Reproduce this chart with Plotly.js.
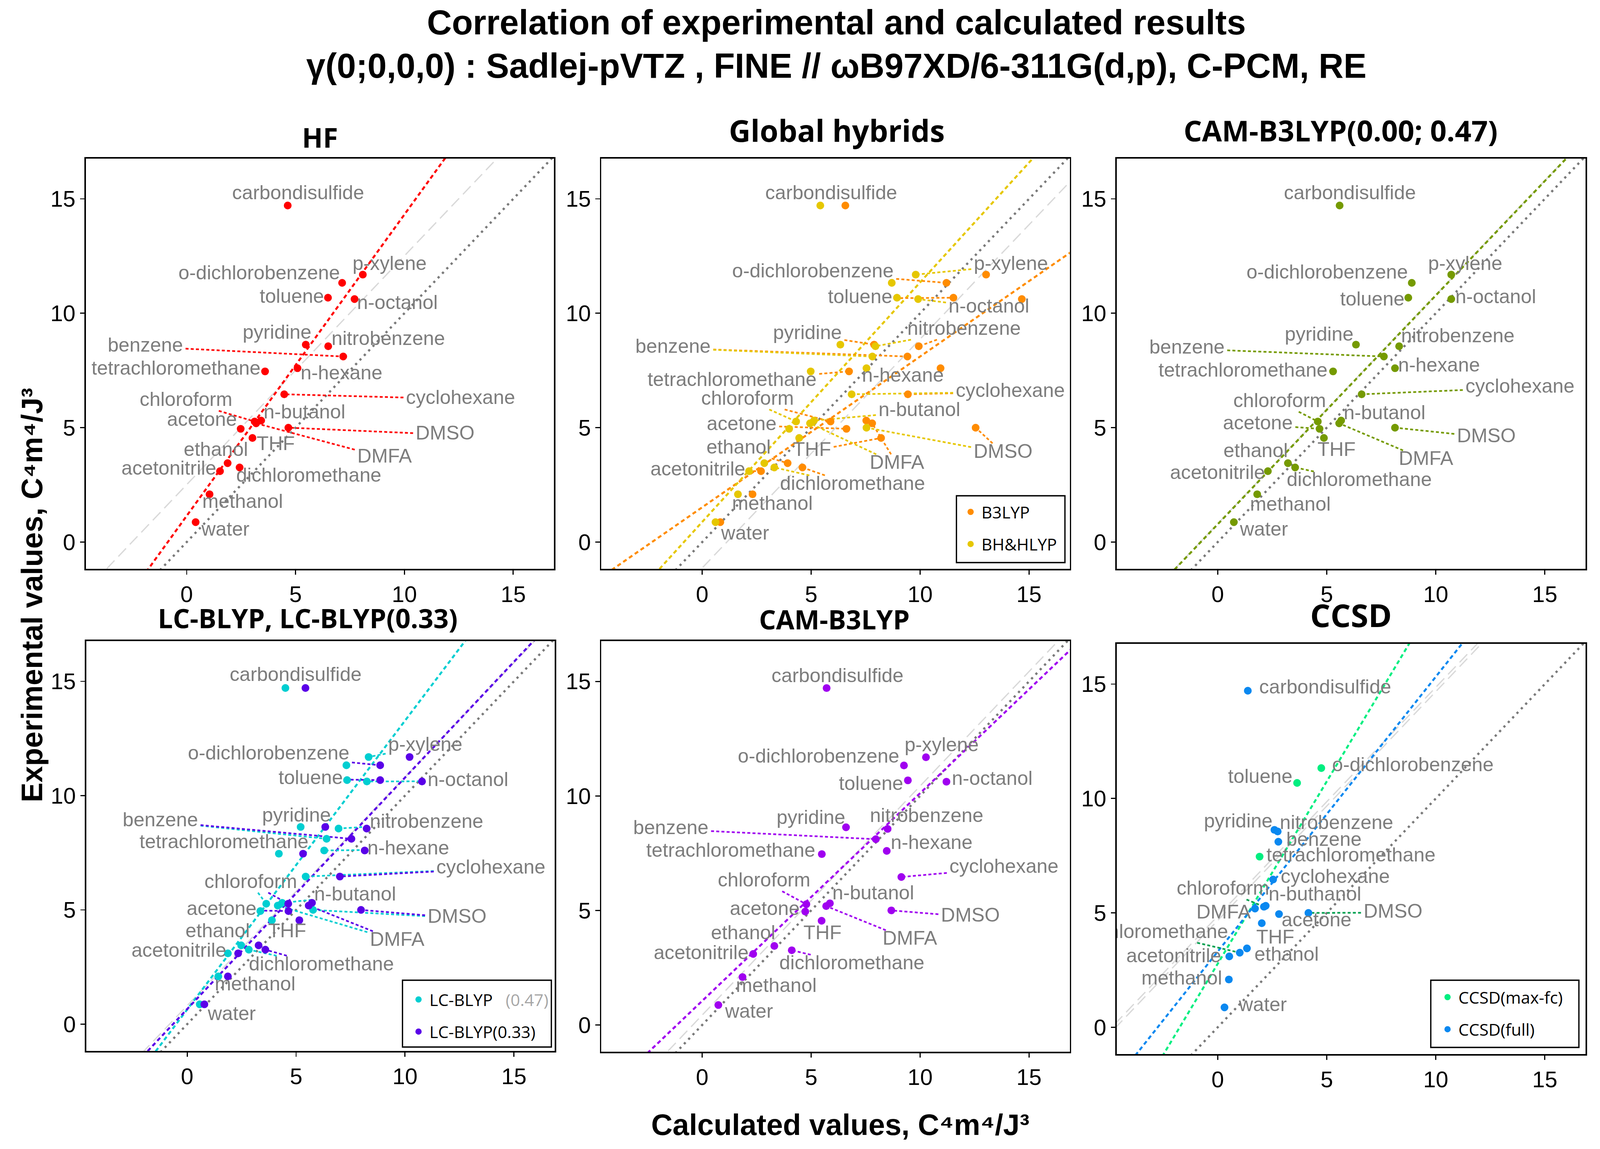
<!DOCTYPE html>
<html><head><meta charset="utf-8">
<script src="https://cdn.plot.ly/plotly-3.0.1.min.js"></script>
<style>html,body{margin:0;padding:0;background:#fff;overflow:hidden}</style>
</head><body><div id="chart"></div>
<script>
// ---------------- data ----------------
const solvents = ["carbondisulfide","p-xylene","o-dichlorobenzene","toluene","n-octanol","pyridine","nitrobenzene","benzene","tetrachloromethane","n-hexane","cyclohexane","chloroform","n-butanol","DMFA","acetone","DMSO","THF","ethanol","acetonitrile","dichloromethane","methanol","water"];
const experimental = [14.71,11.69,11.33,10.68,10.62,8.63,8.56,8.11,7.46,7.60,6.46,5.27,5.31,5.19,4.95,5.00,4.55,3.45,3.10,3.26,2.09,0.87];

const calc_HF        = [4.64,8.09,7.14,6.49,7.71,5.47,6.50,7.19,3.60,5.09,4.48,3.12,3.42,3.19,2.48,4.67,3.02,1.88,1.53,2.43,1.05,0.41];
const calc_B3LYP     = [6.57,13.03,11.21,11.53,14.67,7.89,9.94,9.42,6.74,10.94,9.44,5.89,7.53,7.80,6.62,12.55,8.21,3.92,2.70,4.60,2.31,0.83];
const calc_BHHLYP    = [5.42,9.80,8.70,8.94,9.91,6.34,7.95,7.81,4.98,7.54,6.86,4.31,5.13,4.95,3.99,7.54,4.45,2.85,2.15,3.31,1.64,0.61];
const calc_CAM_0_047 = [5.59,10.71,8.90,8.74,10.71,6.34,8.32,7.62,5.29,8.13,6.60,4.59,5.66,5.57,4.67,8.13,4.87,3.22,2.30,3.55,1.81,0.74];
const calc_LCBLYP047 = [4.51,8.33,7.31,7.34,8.25,5.21,6.95,6.40,4.21,6.29,5.44,3.63,4.36,4.16,3.36,5.78,3.89,2.48,1.87,2.83,1.43,0.58];
const calc_LCBLYP033 = [5.43,10.21,8.86,8.86,10.78,6.34,8.24,7.54,5.32,8.15,7.01,4.64,5.73,5.58,4.65,7.98,5.15,3.28,2.34,3.59,1.87,0.79];
const calc_CAMB3LYP  = [5.71,10.27,9.26,9.44,11.21,6.60,8.51,7.97,5.49,8.47,9.14,4.78,5.86,5.69,4.73,8.68,5.48,3.31,2.34,4.11,1.85,0.74];
const calc_CCSDfull  = [1.38,null,null,null,null,2.60,2.75,2.78,null,null,2.54,2.12,2.20,1.71,2.81,4.16,2.02,1.34,0.53,1.01,0.51,0.31];
const calc_CCSDmaxfc = [null,null,4.75,3.64,null,null,null,null,1.92,null,null,null,null,null,null,null,null,null,null,null,null,null];

// fitted lines: [slope, intercept]
const fit_HF        = [1.317, 1.145];
const fit_B3LYP     = [0.659, 1.52];
const fit_BHHLYP    = [1.047, 0.88];
const fit_CAM_0_047 = [1.000, 0.78];
const fit_LCBLYP047 = [1.264, 0.64];
const fit_LCBLYP033 = [1.013, 0.66];
const fit_CAMB3LYP  = [0.907, 1.05];
const fit_CCSDmaxfc = [1.593, 2.78];
const fit_CCSDfull  = [1.201, 3.31];
// slope-1 reference offsets (light grey dashed)
const offset_HF = [2.51];
const offset_GH = [-1.13];
const offset_CAM047 = [0.80];
const offset_LC = [0.81];
const offset_CAM = [0.43];
const offset_CCSD = [4.86, 4.67];

const ccsdLabelText = solvents.map(s => s === "n-butanol" ? "n-buthanol" : s);

// ---------------- label placement (layout, data coords) ----------------
const LAB = {
  HF:  {x:[5.12,9.32,3.33,4.83,9.68,4.15,9.26,-1.90,-0.49,7.11,12.58,-0.03,5.41,9.09,0.70,11.87,4.09,1.34,-0.82,5.61,2.57,1.78],
        y:[15.19,12.10,11.70,10.68,10.40,9.11,8.83,8.54,7.53,7.32,6.25,6.16,5.62,3.69,5.30,4.70,4.23,3.98,3.16,2.85,1.71,0.49]},
  GH:  {x:[5.92,14.17,5.08,7.25,13.16,4.83,12.02,-1.34,1.37,9.21,14.14,2.08,9.97,8.94,1.81,13.81,5.04,1.67,-0.20,6.90,3.22,1.97],
        y:[15.19,12.10,11.79,10.65,10.24,9.08,9.27,8.48,7.03,7.22,6.56,6.22,5.72,3.41,5.11,3.89,3.98,4.08,3.12,2.49,1.62,0.33]},
  C47: {x:[6.06,11.35,5.02,7.09,12.75,4.65,11.01,-1.41,1.16,10.15,13.86,2.84,7.65,9.55,1.84,12.32,5.45,1.74,-0.01,6.49,3.33,2.12],
        y:[15.19,12.10,11.73,10.55,10.65,9.02,8.95,8.45,7.44,7.67,6.75,6.12,5.59,3.58,5.14,4.58,3.98,3.92,2.97,2.66,1.59,0.49]},
  LC:  {x:[4.98,10.93,3.74,5.67,12.89,5.02,10.99,-1.23,1.69,10.15,13.94,2.92,7.71,9.64,1.58,12.39,4.59,1.40,-0.38,6.16,3.12,2.05],
        y:[15.23,12.17,11.80,10.72,10.63,9.08,8.80,8.87,7.92,7.64,6.81,6.18,5.63,3.64,5.00,4.65,4.02,4.02,3.16,2.57,1.69,0.39]},
  CAM: {x:[6.21,10.99,5.34,7.75,13.31,4.99,10.30,-1.44,1.31,10.53,13.85,2.84,7.85,9.53,2.87,12.31,5.52,1.88,-0.05,6.87,3.40,2.15],
        y:[15.19,12.16,11.66,10.47,10.69,8.99,9.08,8.55,7.55,7.89,6.86,6.26,5.70,3.71,5.01,4.72,3.96,3.96,3.08,2.64,1.66,0.53]},
  CC:  {x:[4.93,null,8.95,1.95,null,0.94,5.45,4.87,6.11,null,5.39,0.24,4.46,0.27,4.53,8.04,2.64,3.16,-2.02,-2.85,-1.65,2.07],
        y:[14.80,null,11.40,10.89,null,8.94,8.88,8.15,7.46,null,6.52,6.01,5.76,4.97,4.62,5.01,3.88,3.12,3.06,4.12,2.08,0.92]}
};

// reference frame 4321 x 2941; actual drawing fits the real viewport
const RW = 4321, RH = 2941;
const W = window.innerWidth || RW, H = window.innerHeight || RH;
const S = Math.min(W / RW, H / RH);
const chartDiv = document.getElementById("chart");
chartDiv.style.width = W + "px"; chartDiv.style.height = H + "px";
const dsh = (a, b) => (a * S).toFixed(2) + "px," + (b * S).toFixed(2) + "px";

const XR = [-4.63, 16.87], YR = [-1.17, 16.76];
const LABEL_FONT = 53 * S, LABEL_FAMILY = "Liberation Sans";

const PANELS = [
  {title:"HF", tsize:74, tx:864, ty:351, box:[232,1496,406,1456], lab:LAB.HF, text:solvents, offsets:offset_HF,
   series:[{name:"HF", x:calc_HF, color:"#ff0000", fit:fit_HF}]},
  {title:"Global hybrids", tsize:81, tx:2260, ty:333, box:[1624,2889,406,1456], lab:LAB.GH, text:solvents, offsets:offset_GH,
   legend:"legend", legendPos:[2592,1276], legendBox:[2583,2876,1269,1440],
   series:[{name:"B3LYP", x:calc_B3LYP, color:"#ff8c00", fit:fit_B3LYP},
           {name:"BH&amp;HLYP", x:calc_BHHLYP, color:"#e6c700", fit:fit_BHHLYP}]},
  {title:"CAM-B3LYP(0.00; 0.47)", tsize:78, tx:3620, ty:334, box:[3016,4282,406,1456], lab:LAB.C47, text:solvents, offsets:offset_CAM047,
   series:[{name:"CAM047", x:calc_CAM_0_047, color:"#759a00", fit:fit_CAM_0_047}]},
  {title:"LC-BLYP, LC-BLYP(0.33)", tsize:72, tx:831, ty:1581, box:[233,1498,1641,2690], lab:LAB.LC, text:solvents, offsets:offset_LC,
   legend:"legend2", legendPos:[1101,2524], legendBox:[1087,1489,2509,2680],
   series:[{name:"LC-BLYP\u00a0\u00a0 <span style='color:#a6a6a6'>(0.47)</span>", x:calc_LCBLYP047, color:"#00ced1", fit:fit_LCBLYP047},
           {name:"LC-BLYP(0.33)", x:calc_LCBLYP033, color:"#5a00e8", fit:fit_LCBLYP033}]},
  {title:"CAM-B3LYP", tsize:72, tx:2253, ty:1584, box:[1624,2889,1641,2692], lab:LAB.CAM, text:solvents, offsets:offset_CAM,
   series:[{name:"CAM-B3LYP", x:calc_CAMB3LYP, color:"#a000f0", fit:fit_CAMB3LYP}]},
  {title:"CCSD", tsize:86, tx:3648, ty:1574, box:[3016,4282,1648,2698], lab:LAB.CC, text:ccsdLabelText, offsets:offset_CCSD,
   legend:"legend3", legendPos:[3880,2518], legendBox:[3864,4264,2509,2681], leaderColor:"#00a050",
   series:[{name:"CCSD(max-fc)", x:calc_CCSDmaxfc, color:"#00ee80", fit:fit_CCSDmaxfc},
           {name:"CCSD(full)", x:calc_CCSDfull, color:"#0a88f0", fit:fit_CCSDfull}]}
];

// text measuring for leader segments
const cv = document.createElement("canvas").getContext("2d");
cv.font = LABEL_FONT + "px '" + LABEL_FAMILY + "'";
function textW(s){ return cv.measureText(s).width; }

const traces = [];
const layout = {
  width: W, height: H, autosize: false,
  margin: {l:0, r:0, t:0, b:0, pad:0},
  paper_bgcolor: "#fff", plot_bgcolor: "#fff",
  font: {family: "Liberation Sans", color: "#000"},
  showlegend: true,
  annotations: [], shapes: []
};
const legendBase = {xanchor:"left", yanchor:"top", bgcolor:"rgba(0,0,0,0)", borderwidth:0,
  font:{family:"Open Sans", size:45 * S, color:"#000"}, tracegroupgap:25 * S, itemsizing:"trace",
  traceorder:"grouped", itemwidth:Math.max(30, 48 * S)};

const LX = [-10, 25];
PANELS.forEach((p, i) => {
  const n = i + 1;
  const xa = n === 1 ? "x" : "x" + n, ya = n === 1 ? "y" : "y" + n;
  const xkey = n === 1 ? "xaxis" : "xaxis" + n, ykey = n === 1 ? "yaxis" : "yaxis" + n;
  const [x0, x1, y0, y1] = p.box;
  const common = {showgrid:false, zeroline:false, showline:true, mirror:true, linecolor:"#000", linewidth:4 * S,
    ticks:"outside", ticklen:12 * S, tickwidth:3 * S, tickcolor:"#000", tickvals:[0,5,10,15], automargin:false, fixedrange:true,
    tickfont:{family:"Liberation Sans", size:61 * S, color:"#000"}};
  layout[xkey] = Object.assign({}, common, {domain:[x0 / RW, x1 / RW], anchor:ya, range:XR});
  layout[ykey] = Object.assign({}, common, {domain:[1 - y1 / RH, 1 - y0 / RH], anchor:xa, range:YR});
  const pxu = (x1 - x0) / RW * W / (XR[1] - XR[0]), pyu = (y1 - y0) / RH * H / (YR[1] - YR[0]);

  // light grey slope-1 lines
  p.offsets.forEach(o => traces.push({type:"scatter", mode:"lines", xaxis:xa, yaxis:ya, showlegend:false, hoverinfo:"skip",
    x:LX, y:LX.map(v => v + o), line:{color:"#d9d9d9", width:3.5 * S, dash:dsh(30, 15)}}));
  // y = x
  traces.push({type:"scatter", mode:"lines", xaxis:xa, yaxis:ya, showlegend:false, hoverinfo:"skip",
    x:LX, y:LX.slice(), line:{color:"#7a7a7a", width:6 * S, dash:dsh(6, 11)}});
  // fitted lines
  p.series.forEach(s => traces.push({type:"scatter", mode:"lines", xaxis:xa, yaxis:ya, showlegend:false, hoverinfo:"skip",
    x:LX, y:LX.map(v => s.fit[0] * v + s.fit[1]), line:{color:s.color, width:5.5 * S, dash:dsh(11, 8)}}));

  // leader segments
  p.series.forEach(s => {
    const sx = [], sy = [];
    solvents.forEach((name, k) => {
      const px = s.x[k], py = experimental[k], lx = p.lab.x[k], ly = p.lab.y[k];
      if (px == null || lx == null) return;
      const hw = textW(p.text[k]) / 2 + 7 * S, hh = LABEL_FONT * 0.42 + 4 * S;
      const dx = (px - lx) * pxu, dy = (py - ly) * pyu;
      if (Math.abs(dx) <= hw && Math.abs(dy) <= hh) return;
      const t = Math.min(hw / Math.max(Math.abs(dx), 1e-9), hh / Math.max(Math.abs(dy), 1e-9));
      const ex = dx * t, ey = dy * t;
      if (Math.hypot(dx - ex, dy - ey) < 33 * S) return;
      sx.push(lx + ex / pxu, px, null); sy.push(ly + ey / pyu, py, null);
    });
    traces.push({type:"scatter", mode:"lines", xaxis:xa, yaxis:ya, showlegend:false, hoverinfo:"skip",
      x:sx, y:sy, line:{color:p.leaderColor || s.color, width:4.5 * S, dash:dsh(8, 6)}});
  });

  // points
  p.series.forEach((s, j) => {
    const t = {type:"scatter", mode:"markers", xaxis:xa, yaxis:ya, name:s.name, hoverinfo:"skip",
      x:s.x, y:experimental, marker:{color:s.color, size:21 * S, line:{width:0}}, showlegend:!!p.legend};
    if (p.legend) { t.legend = p.legend; t.legendgroup = "g" + n + "_" + j; }
    traces.push(t);
  });

  // labels
  traces.push({type:"scatter", mode:"text", xaxis:xa, yaxis:ya, showlegend:false, hoverinfo:"skip",
    x:p.lab.x, y:p.lab.y, text:p.text, textposition:"middle center", cliponaxis:true,
    textfont:{family:LABEL_FAMILY, size:LABEL_FONT, color:"#7d7d7d"}});

  // panel title
  layout.annotations.push({text:"<b>" + p.title + "</b>", xref:"paper", yref:"paper", x:p.tx / RW, y:1 - p.ty / RH,
    xanchor:"center", yanchor:"middle", showarrow:false, font:{family:"Open Sans", size:p.tsize * S, color:"#000"}});

  // legend and its frame
  if (p.legend) {
    layout[p.legend] = Object.assign({}, legendBase, {x:p.legendPos[0] / RW, y:1 - p.legendPos[1] / RH});
    const b = p.legendBox;
    layout.shapes.push({type:"rect", xref:"paper", yref:"paper", layer:"above",
      x0:b[0] / RW, x1:b[1] / RW, y0:1 - b[3] / RH, y1:1 - b[2] / RH,
      line:{color:"#000", width:3.5 * S}, fillcolor:"#fff"});
  }
});

layout.annotations.push(
  {text:"<b>Correlation of experimental and calculated results</b>", xref:"paper", yref:"paper", x:2259 / RW, y:1 - 57 / RH,
   xanchor:"center", yanchor:"middle", showarrow:false, font:{family:"Liberation Sans", size:93 * S, color:"#000"}},
  {text:"<b>γ(0;0,0,0) : Sadlej-pVTZ , FINE // ωB97XD/6-311G(d,p), C-PCM, RE</b>", xref:"paper", yref:"paper", x:2259 / RW, y:1 - 168 / RH,
   xanchor:"center", yanchor:"middle", showarrow:false, font:{family:"Liberation Sans", size:93 * S, color:"#000"}},
  {text:"<b>Calculated values, C⁴m⁴/J³</b>", xref:"paper", yref:"paper", x:2269 / RW, y:1 - 2878 / RH,
   xanchor:"center", yanchor:"middle", showarrow:false, font:{family:"Liberation Sans", size:80 * S, color:"#000"}},
  {text:"<b>Experimental values, C⁴m⁴/J³</b>", xref:"paper", yref:"paper", x:85 / RW, y:1 - 1523 / RH, textangle:-90,
   xanchor:"center", yanchor:"middle", showarrow:false, font:{family:"Liberation Sans", size:80 * S, color:"#000"}}
);

Plotly.newPlot("chart", traces, layout, {staticPlot:true, displayModeBar:false});
</script></body></html>
